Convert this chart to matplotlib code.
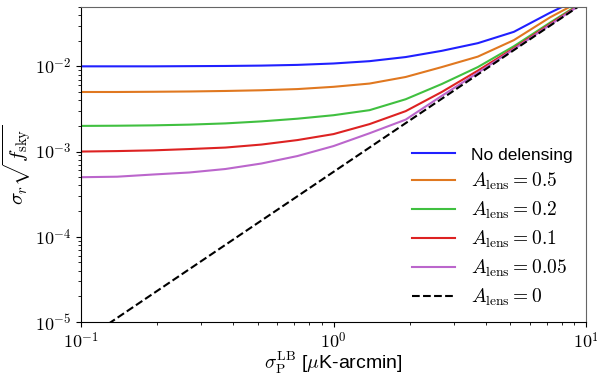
import matplotlib
matplotlib.use("Agg")
import matplotlib.pyplot as plt
from matplotlib.ticker import FuncFormatter, LogLocator
import numpy as np

plt.rcParams['mathtext.fontset'] = 'cm'
plt.rcParams['font.family'] = ['Liberation Sans', 'DejaVu Sans']

# noise levels (uK-arcmin), log spaced nodes
sigma_p = [0.1, 0.1389, 0.1931, 0.2683, 0.3728, 0.5179, 0.7197, 1.0,
           1.389, 1.931, 2.683, 3.728, 5.179, 7.197, 10.0]

no_delens = [0.0100, 0.0100, 0.0100, 0.01005, 0.0101, 0.0102, 0.0104, 0.0108,
             0.0115, 0.01285, 0.0152, 0.0187, 0.0254, 0.0425, 0.0680]
alens_05 = [0.0050, 0.0050, 0.00503, 0.00507, 0.00514, 0.00524, 0.00541, 0.00575,
            0.00628, 0.0075, 0.0098, 0.0130, 0.0203, 0.0375, 0.0630]
alens_02 = [0.0020, 0.00201, 0.00203, 0.00207, 0.00214, 0.00226, 0.00243, 0.00267,
            0.00306, 0.00411, 0.0062, 0.0098, 0.0172, 0.0325, 0.0600]
alens_01 = [0.0010, 0.001013, 0.001033, 0.00107, 0.001114, 0.001208, 0.001364, 0.001603,
            0.0021, 0.00298, 0.0050, 0.0089, 0.0163, 0.0314, 0.0590]
alens_005 = [0.0005, 0.000507, 0.000538, 0.000568, 0.000624, 0.000724, 0.000886, 0.00116,
             0.00164, 0.00237, 0.0045, 0.0084, 0.0159, 0.0306, 0.0584]
alens_0 = [5.78e-6, 1.115e-5, 2.155e-5, 4.16e-5, 8.03e-5, 1.55e-4, 2.99e-4, 5.78e-4,
           1.115e-3, 2.155e-3, 4.16e-3, 8.03e-3, 1.55e-2, 2.99e-2, 5.78e-2]

fig = plt.figure(figsize=(5.97, 3.76), dpi=100)
ax = fig.add_axes([0.1357, 0.1436, 0.8459, 0.8384])

ax.loglog(sigma_p, no_delens, color='#2020ff', lw=1.5, label='No delensing')
ax.loglog(sigma_p, alens_05, color='#e07820', lw=1.5, label=r'$A_{\rm lens} = 0.5$')
ax.loglog(sigma_p, alens_02, color='#40c040', lw=1.5, label=r'$A_{\rm lens} = 0.2$')
ax.loglog(sigma_p, alens_01, color='#dd2222', lw=1.5, label=r'$A_{\rm lens} = 0.1$')
ax.loglog(sigma_p, alens_005, color='#bb66cc', lw=1.5, label=r'$A_{\rm lens} = 0.05$')
ax.loglog(sigma_p, alens_0, color='black', lw=1.5, ls='--', label=r'$A_{\rm lens} = 0$')

ax.set_xlim(0.1, 10)
ax.set_ylim(1e-5, 5e-2)

pow10 = FuncFormatter(lambda v, pos: r'$10^{%d}$' % round(np.log10(v)))
ax.xaxis.set_major_formatter(pow10)
ax.yaxis.set_major_formatter(pow10)
ax.xaxis.set_major_locator(LogLocator(base=10))
ax.yaxis.set_major_locator(LogLocator(base=10))
ax.tick_params(labelsize=13)

ax.set_xlabel(r'$\sigma_{\rm P}^{\rm LB}$ [$\mu$K-arcmin]', fontsize=14, labelpad=-2)
ax.set_ylabel(r'$\sigma_r\sqrt{f_{\rm sky}}$', fontsize=15)
ax.yaxis.set_label_coords(-0.094, 0.5)
ax.spines['top'].set_color('0.4')
ax.spines['right'].set_color('0.4')

leg = ax.legend(loc='lower right', frameon=False, fontsize=14, handlelength=2.2,
                labelspacing=0.4, borderaxespad=0.3)
leg.get_texts()[0].set_fontsize(12.5)

fig.savefig('out.png', dpi=100)
